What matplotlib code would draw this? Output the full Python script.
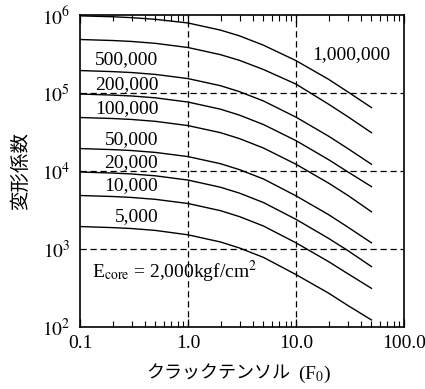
import numpy as np
import matplotlib
matplotlib.use('Agg')
import matplotlib.pyplot as plt

plt.rcParams['font.family'] = ['Liberation Serif', 'Noto Sans CJK JP']
plt.rcParams['mathtext.fontset'] = 'stix'

# ---- data ----
crack_tensor = [0.1, 0.2, 0.3, 0.5, 1, 2, 3, 5, 10, 20, 30, 50]

e_1000000 = [975000, 950000, 925000, 880000, 790000, 640000, 540000, 410000, 260000, 150000, 104000, 65000]
e_500000 = [485000, 471000, 458000, 433000, 383000, 310000, 262000, 200000, 130000, 72000, 50000, 31000]
e_200000 = [194000, 188000, 183000, 173000, 153000, 124000, 104000, 79000, 49000, 28000, 19500, 12200]
e_100000 = [97000, 94000, 91600, 86700, 76500, 62000, 52000, 39400, 24500, 14000, 9800, 6300]
e_50000 = [48500, 47100, 45800, 43300, 38200, 31000, 26000, 19700, 12200, 7000, 4900, 3000]
e_20000 = [19400, 18800, 18300, 17300, 15300, 12400, 10400, 7900, 4800, 2760, 1920, 1200]
e_10000 = [9700, 9420, 9160, 8670, 7650, 6190, 5200, 3940, 2400, 1370, 960, 595]
e_5000 = [4850, 4710, 4580, 4330, 3830, 3100, 2600, 1970, 1200, 690, 485, 313]
e_2000 = [1940, 1880, 1830, 1730, 1520, 1230, 1030, 780, 470, 272, 190, 123]

curves = [e_1000000, e_500000, e_200000, e_100000, e_50000,
          e_20000, e_10000, e_5000, e_2000]

curve_labels = ['500,000', '200,000', '100,000', '50,000',
                '20,000', '10,000', '5,000']
curve_label_y = [2.65e5, 1.30e5, 6.3e4, 2.54e4, 1.29e4, 6.5e3, 2.6e3]

x_ticks = [0.1, 1.0, 10.0, 100.0]
x_ticklabels = ['0.1', '1.0', '10.0', '100.0']
y_ticks = [1e2, 1e3, 1e4, 1e5, 1e6]
y_ticklabels = ['$10^2$', '$10^3$', '$10^4$', '$10^5$', '$10^6$']

# ---- figure ----
W, H = 425, 389
fig = plt.figure(figsize=(W / 100, H / 100), dpi=100, facecolor='white')
ax = fig.add_axes([80 / W, 1 - 327 / H, 324 / W, 312 / H])

ax.set_xscale('log')
ax.set_yscale('log')
ax.set_xlim(0.1, 100)
ax.set_ylim(1e2, 1e6)

for vals in curves:
    ax.plot(crack_tensor, vals, color='black', lw=1.0, zorder=3)

# dashed guide lines
for xv in [1.0, 10.0]:
    ax.axvline(xv, color='black', lw=0.9, ls=(0, (5, 3)), zorder=2)
for yv in [1e3, 1e4, 1e5]:
    ax.axhline(yv, color='black', lw=0.9, ls=(0, (5, 3)), zorder=2)

# ticks
ax.set_xticks(x_ticks)
ax.set_xticklabels(x_ticklabels, fontsize=14)
ax.set_yticks(y_ticks)
ax.set_yticklabels(y_ticklabels, fontsize=14)
ax.yaxis.set_minor_locator(matplotlib.ticker.NullLocator())
ax.tick_params(axis='x', which='both', direction='in', top=True, bottom=True, pad=6)
ax.tick_params(axis='x', which='major', length=6, width=0.9)
ax.tick_params(axis='x', which='minor', length=4, width=0.8, labelbottom=False)
ax.tick_params(axis='y', which='both', length=0, pad=7)
for sp in ax.spines.values():
    sp.set_linewidth(1.2)

# curve labels
for lab, yv in zip(curve_labels, curve_label_y):
    ax.text(0.53, yv, lab, fontsize=14, ha='right', va='center')
ax.text(14.0, 3.1e5, '1,000,000', fontsize=14, ha='left', va='center')
ax.text(0.129, 5.1e2, r'E$_{\mathrm{core}}$ = 2,000kgf/cm$^2$',
        fontsize=14, ha='left', va='center')

# axis titles
fig.text(20 / W, 1 - 171 / H, '変形係数', rotation=90, fontsize=14,
         family='Noto Sans CJK JP', ha='center', va='center')
fig.text(146 / W, 1 - 374 / H, 'クラックテンソル', fontsize=13,
         family='Noto Sans CJK JP', ha='left', va='center')
fig.text(298 / W, 1 - 374 / H, '(F$_0$)', fontsize=14, ha='left', va='center')

fig.savefig('out.png', dpi=100)
